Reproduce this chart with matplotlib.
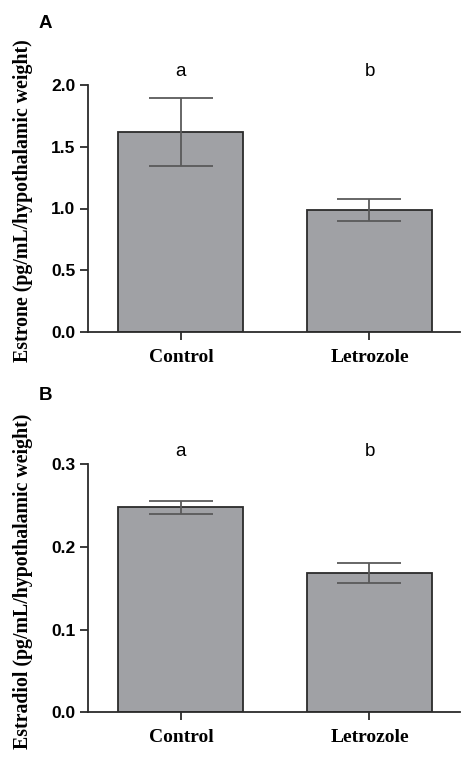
import matplotlib
matplotlib.use("Agg")
import matplotlib.pyplot as plt

categories = ["Control", "Letrozole"]
estrone_mean = [1.62, 0.99]
estrone_sem = [0.275, 0.088]
estradiol_mean = [0.248, 0.168]
estradiol_sem = [0.008, 0.012]
letters = ["a", "b"]
estrone_ticks = [0.0, 0.5, 1.0, 1.5, 2.0]
estradiol_ticks = [0.0, 0.1, 0.2, 0.3]

W, H = 461, 757
fig = plt.figure(figsize=(W / 100, H / 100), dpi=100)

bar_color = "#a0a1a5"
edge_color = "#2b2b2b"
err_color = "#5a5a5a"
serif = ["Liberation Serif", "DejaVu Serif"]
sans = ["Liberation Sans", "DejaVu Sans"]

def panel(rect, means, sems, ticks, ymax, letter_y, ylabel, tag, tag_y):
    ax = fig.add_axes(rect)
    x = list(range(len(categories)))
    ax.bar(x, means, width=0.663, color=bar_color, edgecolor=edge_color,
           linewidth=1.3, zorder=2)
    ax.errorbar(x, means, yerr=sems, fmt="none", ecolor=err_color,
                elinewidth=1.3, capsize=23, capthick=1.3, zorder=3)
    ax.set_xlim(-0.493, 1.48)
    ax.set_ylim(0, ymax)
    ax.set_yticks(ticks)
    ax.set_yticklabels([f"{t:.1f}" for t in ticks], fontfamily=sans,
                       fontweight="bold", fontsize=12.5)
    ax.set_xticks(x)
    ax.set_xticklabels(categories, fontfamily=serif, fontweight="bold",
                       fontsize=14)
    for s in ["top", "right"]:
        ax.spines[s].set_visible(False)
    for s in ["left", "bottom"]:
        ax.spines[s].set_color(edge_color)
        ax.spines[s].set_linewidth(1.3)
    ax.spines["left"].set_bounds(0, ticks[-1])
    ax.tick_params(axis="both", direction="out", length=6, width=1.3,
                   color=edge_color, pad=3)
    ax.tick_params(axis="x", pad=6)
    for xi, l in zip(x, letters):
        ax.text(xi, letter_y, l, ha="center", va="center", fontsize=13.5,
                fontfamily=sans, clip_on=False)
    ax.set_ylabel(ylabel, fontfamily=serif, fontweight="bold", fontsize=14.3)
    ax.yaxis.set_label_coords(-0.148, 0.53)
    fig.text(39 / W, 1 - tag_y / H, tag, fontfamily=sans, fontweight="bold",
             fontsize=13.5, ha="left", va="center")
    return ax

panel([88 / W, 1 - 332 / H, 372 / W, 247 / H], estrone_mean, estrone_sem,
      estrone_ticks, 2.0, 2.108, "Estrone (pg/mL/hypothalamic weight)", "A", 23)
panel([88 / W, 1 - 712.3 / H, 372 / W, 248 / H], estradiol_mean, estradiol_sem,
      estradiol_ticks, 0.3, 0.315, "Estradiol (pg/mL/hypothalamic weight)", "B", 395)

fig.savefig("out.png", dpi=100)
